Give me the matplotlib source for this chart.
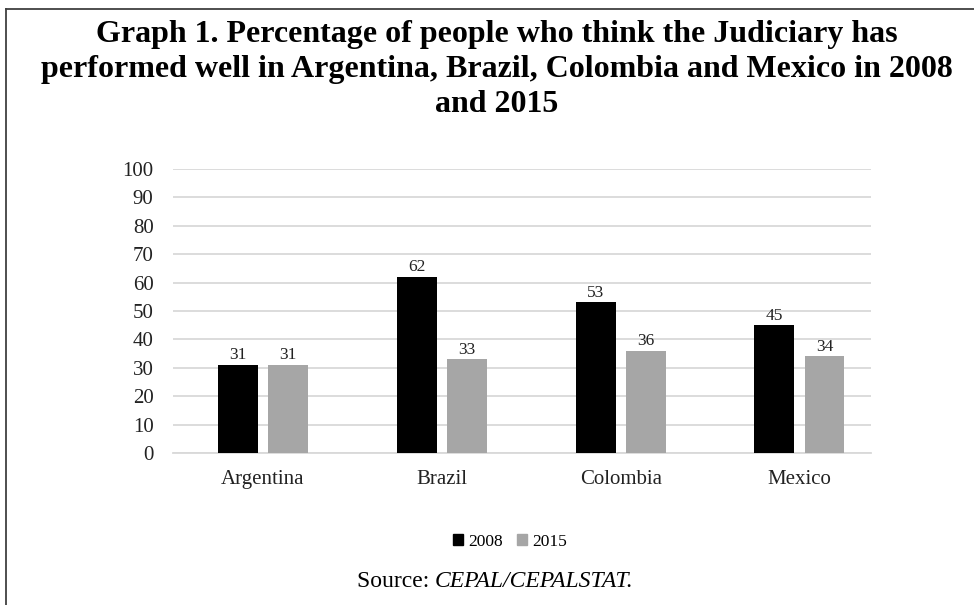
import matplotlib
matplotlib.use("Agg")
import matplotlib.pyplot as plt
from matplotlib.lines import Line2D
from matplotlib.patches import Patch
import numpy as np

categories = ["Argentina", "Brazil", "Colombia", "Mexico"]
series_names = ["2008", "2015"]
values_2008 = [31, 62, 53, 45]
values_2015 = [31, 33, 36, 34]
y_ticks = [0, 10, 20, 30, 40, 50, 60, 70, 80, 90, 100]

title_lines = ["Graph 1. Percentage of people who think the Judiciary has",
               "performed well in Argentina, Brazil, Colombia and Mexico in 2008",
               "and 2015"]

plt.rcParams['font.family'] = ['Liberation Serif', 'DejaVu Serif']

fig = plt.figure(figsize=(9.74, 6.05), dpi=100)
ax = fig.add_axes([173/974, 152/605, (871-173)/974, 284/605])

x = np.arange(len(categories))
w = 0.2235
off = 0.14
c1, c2 = "#000000", "#a6a6a6"
b1 = ax.bar(x - off, values_2008, w, color=c1, zorder=3)
b2 = ax.bar(x + off, values_2015, w, color=c2, zorder=3)

for bars in (b1, b2):
    for rect in bars:
        h = rect.get_height()
        ax.annotate(f"{h:g}", (rect.get_x() + rect.get_width()/2, h),
                    xytext=(0, 4), textcoords="offset points",
                    ha="center", va="baseline", fontsize=12.5, color="#222222")

ax.set_xlim(-0.503, 3.40)
ax.set_ylim(0, 100)
ax.set_yticks(y_ticks)
ax.set_xticks(x)
ax.set_xticklabels(categories)
ax.tick_params(axis="both", length=0, labelsize=15, colors="#222222")
ax.tick_params(axis="x", pad=12)
ax.tick_params(axis="y", pad=14)
ax.grid(axis="y", color="#d9d9d9", linewidth=1.3, zorder=0)
for s in ["top", "right", "left"]:
    ax.spines[s].set_visible(False)
ax.spines["bottom"].set_color("#d9d9d9")
ax.spines["bottom"].set_linewidth(1.3)

for i, line in enumerate(title_lines):
    fig.text(497/974, 1 - (42 + 35*i)/605, line, ha="center", va="baseline",
             fontsize=23, fontweight="bold")

handles = [Patch(color=c1), Patch(color=c2)]
fig.legend(handles, series_names, loc="center", bbox_to_anchor=(510/974, 1 - 542/605),
           ncol=2, frameon=False, fontsize=12.5, handlelength=0.6, handleheight=0.6,
           handletextpad=0.3, columnspacing=0.8)

fig.text(435/974, 1 - 587/605, "Source: ", ha="right", va="baseline", fontsize=17)
fig.text(435/974, 1 - 587/605, "CEPAL/CEPALSTAT.", ha="left", va="baseline",
         fontsize=17, style="italic")

fig.add_artist(Line2D([6/974, 6/974], [0, 1 - 9/605], color="#404040", linewidth=1.3))
fig.add_artist(Line2D([6/974, 1], [1 - 9/605, 1 - 9/605], color="#404040", linewidth=1.3))

fig.savefig("out.png", dpi=100)
